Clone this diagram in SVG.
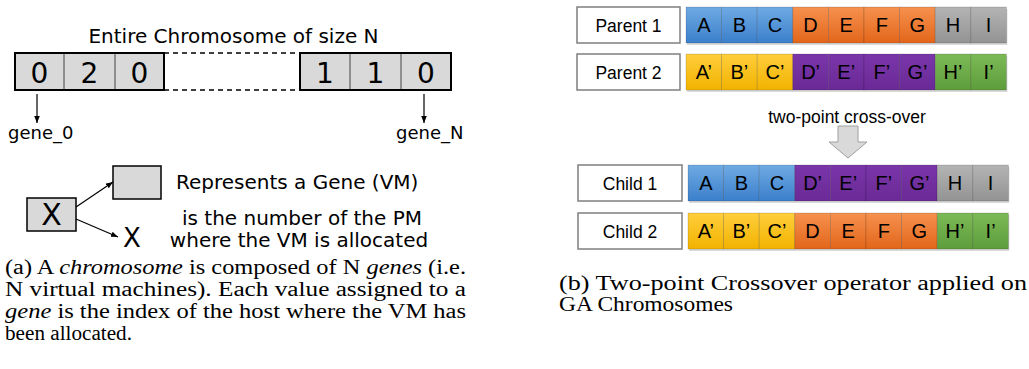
<svg xmlns="http://www.w3.org/2000/svg" width="1029" height="369" viewBox="0 0 1029 369">
<defs>
<linearGradient id="gB" x1="0" y1="0" x2="0" y2="1"><stop offset="0" stop-color="#6faae3"/><stop offset="1" stop-color="#3b7fcb"/></linearGradient>
<linearGradient id="gO" x1="0" y1="0" x2="0" y2="1"><stop offset="0" stop-color="#f6914f"/><stop offset="1" stop-color="#e2661a"/></linearGradient>
<linearGradient id="gG" x1="0" y1="0" x2="0" y2="1"><stop offset="0" stop-color="#b4b4b4"/><stop offset="1" stop-color="#939393"/></linearGradient>
<linearGradient id="gY" x1="0" y1="0" x2="0" y2="1"><stop offset="0" stop-color="#ffce3c"/><stop offset="1" stop-color="#f2b300"/></linearGradient>
<linearGradient id="gP" x1="0" y1="0" x2="0" y2="1"><stop offset="0" stop-color="#7a36a9"/><stop offset="1" stop-color="#6a2a96"/></linearGradient>
<linearGradient id="gN" x1="0" y1="0" x2="0" y2="1"><stop offset="0" stop-color="#7cba57"/><stop offset="1" stop-color="#5e9d3b"/></linearGradient>
<marker id="ah" viewBox="0 0 10 10" refX="10" refY="5" markerUnits="userSpaceOnUse" markerWidth="7" markerHeight="7" orient="auto"><path d="M0,1 L10,5 L0,9 z" fill="#000"/></marker>
<style>
.gbox{fill:#d9d9d9;stroke:#000;stroke-width:2}
.dv{stroke:#444;stroke-width:1}
.dash{stroke:#000;stroke-width:1.6;stroke-dasharray:5,4}
.dig{font-family:"DejaVu Sans",sans-serif;font-size:28px;text-anchor:middle;fill:#000}
.dj{font-family:"DejaVu Sans",sans-serif;font-size:20px;fill:#000}
.gl{font-family:"DejaVu Sans",sans-serif;font-size:18px;fill:#000}
.conn{stroke:#000;stroke-width:1.2;fill:none;marker-end:url(#ah)}
.cap{font-family:"Liberation Serif",serif;font-size:20px;fill:#000}
.it{font-style:italic}
.nb{fill:#fff;stroke:#7f7f7f;stroke-width:1.5}
.nm{font-family:"Liberation Sans",Arial,sans-serif;font-size:17.5px;text-anchor:middle;fill:#000}
.lt{font-family:"Liberation Sans",Arial,sans-serif;font-size:20px;text-anchor:middle;fill:#000}
.cell{stroke:#000;stroke-opacity:0.18;stroke-width:0.8}
.sh{fill:#000;fill-opacity:0.15}
.B{fill:url(#gB)}.O{fill:url(#gO)}.G{fill:url(#gG)}.Y{fill:url(#gY)}.P{fill:url(#gP)}.N{fill:url(#gN)}
.blk{fill:#d9d9d9;stroke:#a0a0a0;stroke-width:1}
</style>
</defs>
<rect width="1029" height="369" fill="#fff"/>

<!-- Left: chromosome -->
<text class="dj" x="233.5" y="43" text-anchor="middle">Entire Chromosome of size N</text>
<g id="chrom-left">
<rect class="gbox" x="15" y="53" width="149" height="37"/>
<line class="dv" x1="64" y1="54" x2="64" y2="89"/>
<line class="dv" x1="115" y1="54" x2="115" y2="89"/>
<text class="dig" x="39.5" y="83">0</text>
<text class="dig" x="89.5" y="83">2</text>
<text class="dig" x="139.5" y="83">0</text>
</g>
<g id="chrom-right">
<rect class="gbox" x="300" y="53" width="151" height="37"/>
<line class="dv" x1="350" y1="54" x2="350" y2="89"/>
<line class="dv" x1="401" y1="54" x2="401" y2="89"/>
<text class="dig" x="325" y="83">1</text>
<text class="dig" x="375.5" y="83">1</text>
<text class="dig" x="426" y="83">0</text>
</g>
<g id="gene0"><text class="gl" x="8" y="139">gene_0</text></g>
<g id="geneN"><text class="gl" x="396" y="139">gene_N</text></g>
<g id="legend-gene"><rect class="gbox" x="113" y="166" width="48" height="33" style="stroke-width:1.5"/></g>
<g id="legend-x"><rect class="gbox" x="27" y="198" width="49" height="33" style="stroke-width:1.5"/>
<text class="dig" x="51.5" y="225" style="font-size:30px">X</text></g>
<g id="legend-xval"><text class="dig" x="132" y="247" style="font-size:26px">X</text></g>
<text class="dj" x="176" y="189">Represents a Gene (VM)</text>
<text class="dj" x="302" y="225" text-anchor="middle">is the number of the PM</text>
<text class="dj" x="299" y="247" text-anchor="middle">where the VM is allocated</text>

<g id="connectors">
<line class="dash" x1="164" y1="53" x2="300" y2="53"/>
<line class="dash" x1="164" y1="90" x2="300" y2="90"/>
<line class="conn" x1="37" y1="94" x2="37" y2="123"/>
<line class="conn" x1="424" y1="94" x2="424" y2="123"/>
<line class="conn" x1="76" y1="207" x2="113" y2="182"/>
<line class="conn" x1="76" y1="219" x2="118" y2="237"/>
<polygon class="blk" points="838,126 858,126 858,142 867,142 848,158 829,142 838,142"/>
</g>

<text class="cap" x="5" y="274" textLength="461" lengthAdjust="spacingAndGlyphs">(a) A <tspan class="it">chromosome</tspan> is composed of N <tspan class="it">genes</tspan> (i.e.</text>
<text class="cap" x="5" y="296" textLength="461" lengthAdjust="spacingAndGlyphs">N virtual machines). Each value assigned to a</text>
<text class="cap" x="5" y="318" textLength="461" lengthAdjust="spacingAndGlyphs"><tspan class="it">gene</tspan> is the index of the host where the VM has</text>
<text class="cap" x="5" y="340" textLength="127" lengthAdjust="spacingAndGlyphs">been allocated.</text>

<!-- Right: crossover -->
<g id="parent1">
<rect class="nb" x="577" y="7" width="103" height="36"/>
<text class="nm" x="628.5" y="31.5">Parent 1</text>
<rect class="sh" x="687" y="9" width="320.4" height="36"/>
<rect class="cell B" x="686" y="7" width="35.6" height="36"/><rect class="cell B" x="721.6" y="7" width="35.6" height="36"/><rect class="cell B" x="757.2" y="7" width="35.6" height="36"/>
<rect class="cell O" x="792.8" y="7" width="35.6" height="36"/><rect class="cell O" x="828.4" y="7" width="35.6" height="36"/><rect class="cell O" x="864" y="7" width="35.6" height="36"/><rect class="cell O" x="899.6" y="7" width="35.6" height="36"/>
<rect class="cell G" x="935.2" y="7" width="35.6" height="36"/><rect class="cell G" x="970.8" y="7" width="35.6" height="36"/>
<text class="lt" y="32"><tspan x="703.8">A</tspan><tspan x="739.4">B</tspan><tspan x="775">C</tspan><tspan x="810.6">D</tspan><tspan x="846.2">E</tspan><tspan x="881.8">F</tspan><tspan x="917.4">G</tspan><tspan x="953">H</tspan><tspan x="988.6">I</tspan></text>
</g>
<g id="parent2">
<rect class="nb" x="577" y="54" width="103" height="36"/>
<text class="nm" x="628.5" y="78.5">Parent 2</text>
<rect class="sh" x="687" y="56" width="320.4" height="36"/>
<rect class="cell Y" x="686" y="54" width="35.6" height="36"/><rect class="cell Y" x="721.6" y="54" width="35.6" height="36"/><rect class="cell Y" x="757.2" y="54" width="35.6" height="36"/>
<rect class="cell P" x="792.8" y="54" width="35.6" height="36"/><rect class="cell P" x="828.4" y="54" width="35.6" height="36"/><rect class="cell P" x="864" y="54" width="35.6" height="36"/><rect class="cell P" x="899.6" y="54" width="35.6" height="36"/>
<rect class="cell N" x="935.2" y="54" width="35.6" height="36"/><rect class="cell N" x="970.8" y="54" width="35.6" height="36"/>
<text class="lt" y="79"><tspan x="703.8">A’</tspan><tspan x="739.4">B’</tspan><tspan x="775">C’</tspan><tspan x="810.6">D’</tspan><tspan x="846.2">E’</tspan><tspan x="881.8">F’</tspan><tspan x="917.4">G’</tspan><tspan x="953">H’</tspan><tspan x="988.6">I’</tspan></text>
</g>
<text class="nm" x="847" y="123" style="font-size:17.5px">two-point cross-over</text>
<g id="child1">
<rect class="nb" x="578" y="165" width="104" height="36"/>
<text class="nm" x="630" y="189.5">Child 1</text>
<rect class="sh" x="689" y="167" width="320.4" height="36"/>
<rect class="cell B" x="688" y="165" width="35.6" height="36"/><rect class="cell B" x="723.6" y="165" width="35.6" height="36"/><rect class="cell B" x="759.2" y="165" width="35.6" height="36"/>
<rect class="cell P" x="794.8" y="165" width="35.6" height="36"/><rect class="cell P" x="830.4" y="165" width="35.6" height="36"/><rect class="cell P" x="866" y="165" width="35.6" height="36"/><rect class="cell P" x="901.6" y="165" width="35.6" height="36"/>
<rect class="cell G" x="937.2" y="165" width="35.6" height="36"/><rect class="cell G" x="972.8" y="165" width="35.6" height="36"/>
<text class="lt" y="190"><tspan x="705.8">A</tspan><tspan x="741.4">B</tspan><tspan x="777">C</tspan><tspan x="812.6">D’</tspan><tspan x="848.2">E’</tspan><tspan x="883.8">F’</tspan><tspan x="919.4">G’</tspan><tspan x="955">H</tspan><tspan x="990.6">I</tspan></text>
</g>
<g id="child2">
<rect class="nb" x="578" y="213" width="104" height="36"/>
<text class="nm" x="630" y="237.5">Child 2</text>
<rect class="sh" x="689" y="215" width="320.4" height="36"/>
<rect class="cell Y" x="688" y="213" width="35.6" height="36"/><rect class="cell Y" x="723.6" y="213" width="35.6" height="36"/><rect class="cell Y" x="759.2" y="213" width="35.6" height="36"/>
<rect class="cell O" x="794.8" y="213" width="35.6" height="36"/><rect class="cell O" x="830.4" y="213" width="35.6" height="36"/><rect class="cell O" x="866" y="213" width="35.6" height="36"/><rect class="cell O" x="901.6" y="213" width="35.6" height="36"/>
<rect class="cell N" x="937.2" y="213" width="35.6" height="36"/><rect class="cell N" x="972.8" y="213" width="35.6" height="36"/>
<text class="lt" y="238"><tspan x="705.8">A’</tspan><tspan x="741.4">B’</tspan><tspan x="777">C’</tspan><tspan x="812.6">D</tspan><tspan x="848.2">E</tspan><tspan x="883.8">F</tspan><tspan x="919.4">G</tspan><tspan x="955">H’</tspan><tspan x="990.6">I’</tspan></text>
</g>

<text class="cap" x="559" y="290" textLength="468" lengthAdjust="spacingAndGlyphs">(b) Two-point Crossover operator applied on</text>
<text class="cap" x="559" y="311" textLength="174" lengthAdjust="spacingAndGlyphs">GA Chromosomes</text>
</svg>
